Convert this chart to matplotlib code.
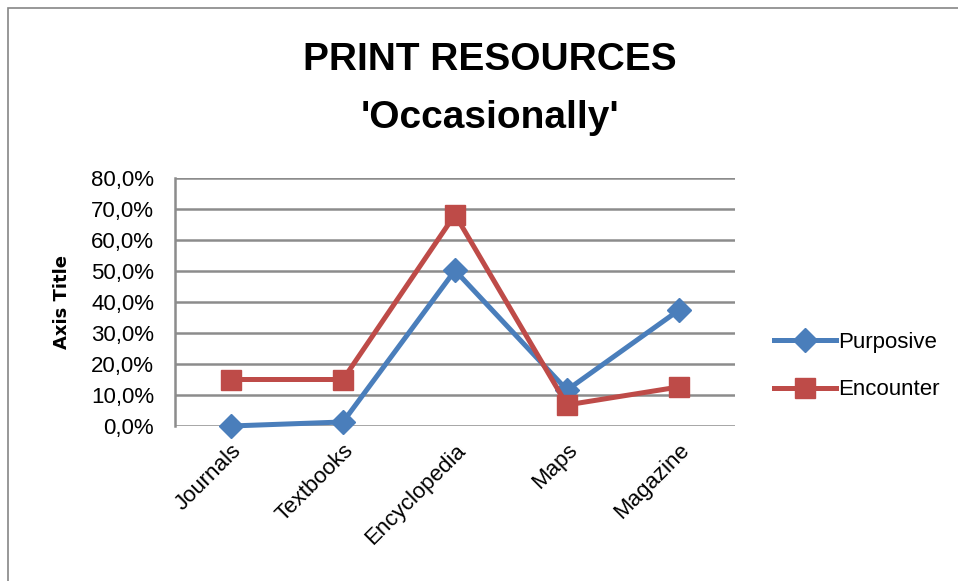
import matplotlib
matplotlib.use("Agg")
import matplotlib.pyplot as plt
from matplotlib.patches import Rectangle
from matplotlib.ticker import FuncFormatter

# print resources used "occasionally", share of respondents
categories = ["Journals", "Textbooks", "Encyclopedia", "Maps", "Magazine"]
purposive = [0.0, 1.3, 50.2, 11.6, 37.4]
encounter = [15.0, 15.0, 68.2, 6.8, 12.6]
yticks = [0, 10, 20, 30, 40, 50, 60, 70, 80]

plt.rcParams['font.family'] = ['Liberation Sans', 'DejaVu Sans']

fig = plt.figure(figsize=(9.58, 5.81), dpi=100)
fig.patch.set_facecolor("white")

# chart area frame
fig.patches.append(Rectangle((8 / 958, -0.1), 1.2, 1 - 8 / 581 + 0.1,
                             transform=fig.transFigure, fill=False,
                             edgecolor="#868686", linewidth=1.2))

ax = fig.add_axes([175 / 958, 1 - 426 / 581, 560 / 958, 248 / 581])
x = range(len(categories))

ax.plot(x, purposive, color="#4A7EBB", linewidth=3.6, marker="D",
        markersize=12, label="Purposive", clip_on=False, zorder=3)
ax.plot(x, encounter, color="#BE4B48", linewidth=3.6, marker="s",
        markersize=15, label="Encounter", clip_on=False, zorder=3)

ax.set_xlim(-0.5, len(categories) - 0.5)
ax.set_ylim(0, 80)
ax.set_yticks(yticks)
ax.yaxis.set_major_formatter(FuncFormatter(lambda v, p: f"{v:.1f}%".replace(".", ",")))
ax.set_xticks(list(x))
ax.set_xticklabels(categories, rotation=45, ha="right", rotation_mode="anchor",
                   fontsize=16)
ax.tick_params(axis="y", labelsize=16, length=0, pad=15)
ax.tick_params(axis="x", length=0, pad=10)

ax.grid(axis="y", color="#8C8C8C", linewidth=1.8)
ax.set_axisbelow(True)
for s in ["top", "right", "bottom"]:
    ax.spines[s].set_visible(False)
ax.spines["left"].set_color("#8C8C8C")
ax.spines["left"].set_linewidth(1.8)

ax.set_ylabel("Axis Title", fontsize=13, fontweight="bold", family="DejaVu Sans")
ax.yaxis.set_label_coords(-0.185, 0.5)

fig.text(490 / 958, 1 - 60 / 581, "PRINT RESOURCES", ha="center", va="center",
         fontsize=28, fontweight="bold")
fig.text(490 / 958, 1 - 118 / 581, "'Occasionally'", ha="center", va="center",
         fontsize=28, fontweight="bold")

fig.legend(loc="center left", bbox_to_anchor=(765 / 958, 1 - 366 / 581),
           frameon=False, fontsize=16, handlelength=2.8, handletextpad=0.1,
           labelspacing=1.2, borderaxespad=0)

fig.savefig("out.png", dpi=100)
